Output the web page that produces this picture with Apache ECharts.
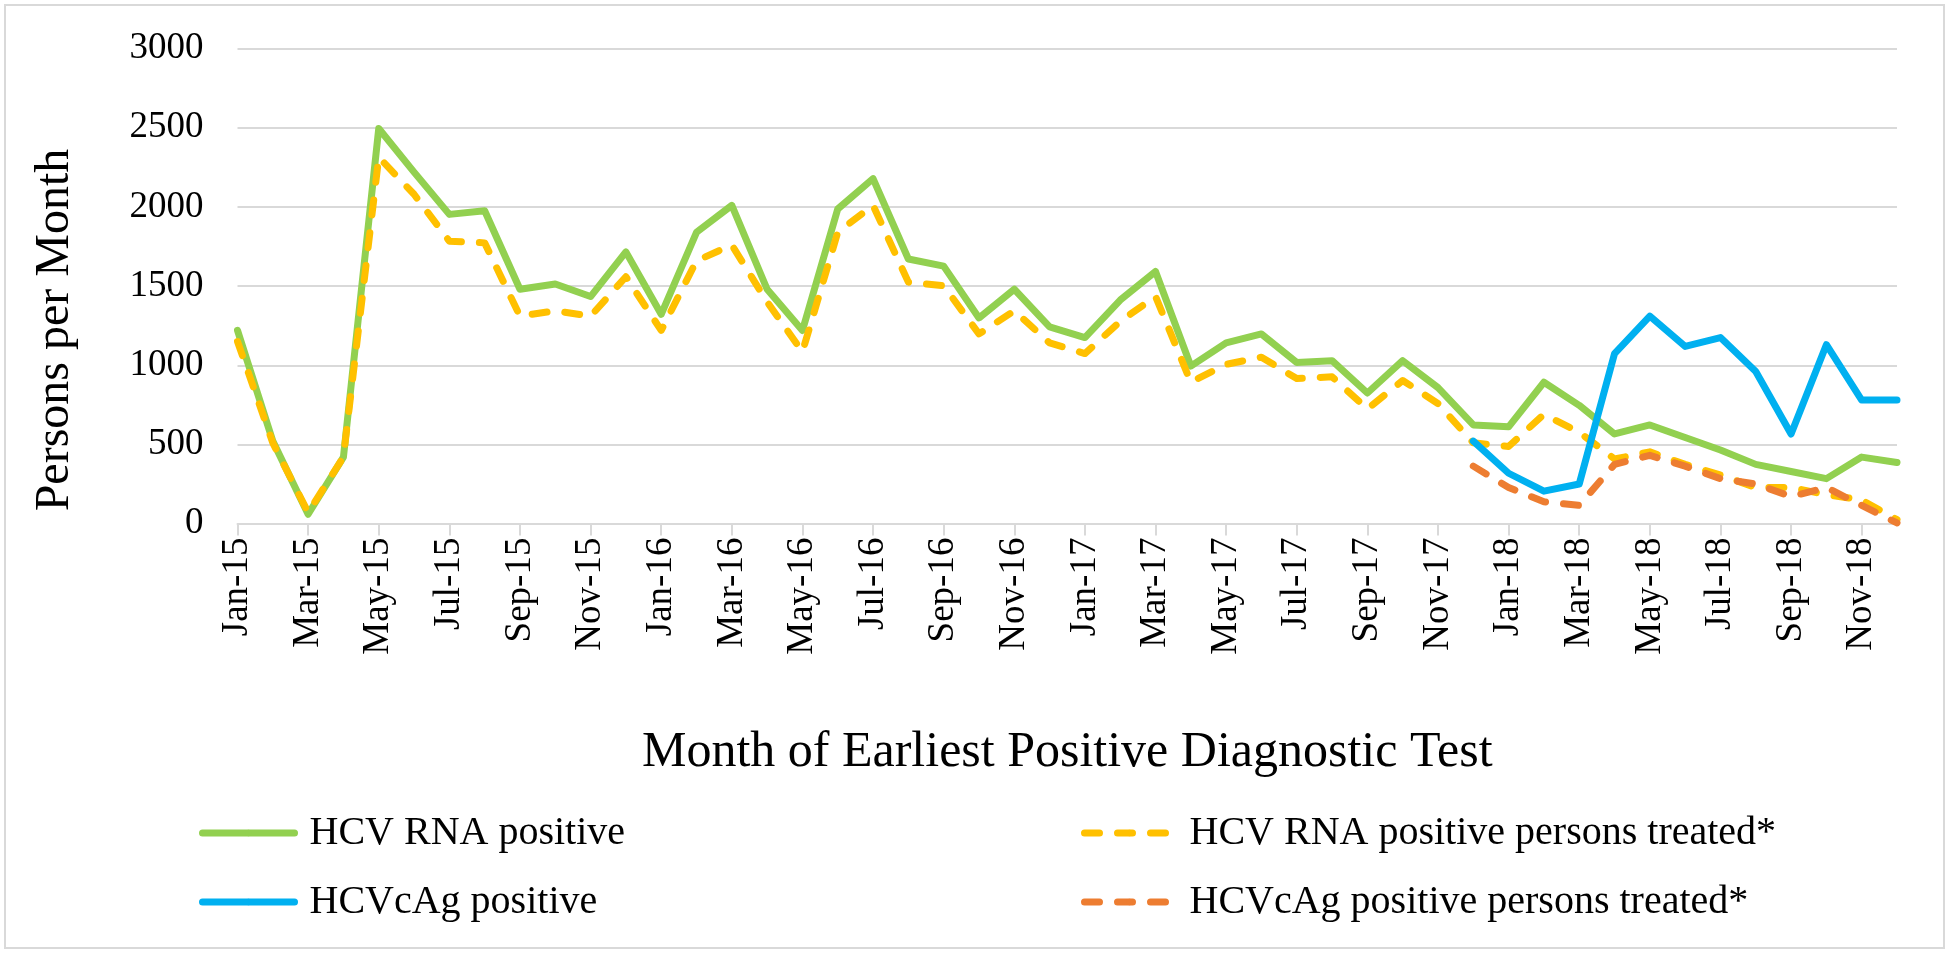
<!DOCTYPE html>
<html>
<head>
<meta charset="utf-8">
<script src="https://cdn.jsdelivr.net/npm/echarts@6/dist/echarts.min.js"></script>
<style>
html,body{margin:0;padding:0;background:#fff;}
#chart{width:1950px;height:953px;}
</style>
</head>
<body>
<div id="chart"></div>
<script>
const months = ["Jan-15","Feb-15","Mar-15","Apr-15","May-15","Jun-15","Jul-15","Aug-15","Sep-15","Oct-15","Nov-15","Dec-15",
"Jan-16","Feb-16","Mar-16","Apr-16","May-16","Jun-16","Jul-16","Aug-16","Sep-16","Oct-16","Nov-16","Dec-16",
"Jan-17","Feb-17","Mar-17","Apr-17","May-17","Jun-17","Jul-17","Aug-17","Sep-17","Oct-17","Nov-17","Dec-17",
"Jan-18","Feb-18","Mar-18","Apr-18","May-18","Jun-18","Jul-18","Aug-18","Sep-18","Oct-18","Nov-18","Dec-18"];

const hcvRnaPositive = [1220,521,59,420,2495,2220,1953,1976,1480,1513,1434,1716,
1322,1840,2010,1480,1220,1987,2179,1671,1626,1299,1480,1243,
1175,1412,1592,995,1141,1198,1017,1029,825,1029,859,623,
611,893,747,566,623,544,465,374,329,284,420,386];

const hcvRnaTreated = [1150,510,70,420,2314,2080,1784,1773,1310,1344,1310,1559,
1220,1660,1760,1400,1085,1840,2010,1525,1502,1198,1344,1141,
1074,1277,1435,893,1006,1051,916,927,724,904,758,510,
487,690,577,408,453,374,307,228,228,183,149,25];

const hcvcAgPositive = [null,null,null,null,null,null,null,null,null,null,null,null,
null,null,null,null,null,null,null,null,null,null,null,null,
null,null,null,null,null,null,null,null,null,null,null,521,
318,205,250,1074,1310,1119,1175,961,566,1130,780,780];

const hcvcAgTreated = [null,null,null,null,null,null,null,null,null,null,null,null,
null,null,null,null,null,null,null,null,null,null,null,null,
null,null,null,null,null,null,null,null,null,null,null,363,
228,138,115,374,431,363,284,250,171,228,115,4];

const yTicks = {min: 0, max: 3000, interval: 500};

const FONT = "'Liberation Serif','Times New Roman',serif";
const chart = echarts.init(document.getElementById('chart'), null, {renderer: 'canvas'});

function lineSeries(name, data, color, dashed) {
  return {
    name: name, type: 'line', data: data, symbol: 'none', connectNulls: false,
    lineStyle: {color: color, width: 7, type: dashed ? [15, 18] : 'solid', cap: 'round', join: 'round'},
    itemStyle: {color: color},
    emphasis: {disabled: true}
  };
}

function legendOf(left, itemWidth, padLeft, names) {
  return {
    orient: 'vertical', left: left, top: 808, itemWidth: itemWidth, itemHeight: 8, itemGap: 29,
    textStyle: {fontFamily: FONT, fontSize: 40, color: '#000', padding: [0, 0, 0, padLeft]},
    lineStyle: {width: 7},
    data: names
  };
}

chart.setOption({
  backgroundColor: '#fff',
  animation: false,
  grid: {left: 237.5, right: 53, top: 48.6, bottom: 429.4, containLabel: false},
  xAxis: {
    type: 'category', data: months, boundaryGap: false,
    axisLine: {lineStyle: {color: '#D9D9D9', width: 2}},
    axisTick: {show: true, interval: 1, length: 12, lineStyle: {color: '#D9D9D9', width: 2}},
    axisLabel: {interval: 1, rotate: 90, margin: 14, fontFamily: FONT, fontSize: 37, color: '#000'},
    name: 'Month of Earliest Positive Diagnostic Test', nameLocation: 'middle', nameGap: 204,
    nameTextStyle: {fontFamily: FONT, fontSize: 50, color: '#000'}
  },
  yAxis: {
    type: 'value', min: yTicks.min, max: yTicks.max, interval: yTicks.interval,
    axisLine: {show: false}, axisTick: {show: false},
    splitLine: {lineStyle: {color: '#D9D9D9', width: 2}},
    axisLabel: {margin: 34, fontFamily: FONT, fontSize: 37, color: '#000', formatter: function (v) { return String(v); }}
  },
  legend: [
    legendOf(194, 92, 10, ['HCV RNA positive', 'HCVcAg positive']),
    legendOf(1076, 90, 10, ['HCV RNA positive persons treated*', 'HCVcAg positive persons treated*'])
  ],
  graphic: [
    {type: 'rect', shape: {x: 5, y: 5, width: 1939, height: 943}, style: {fill: 'none', stroke: '#D9D9D9', lineWidth: 2}, silent: true},
    {type: 'text', x: 55, y: 330, rotation: Math.PI / 2,
     style: {text: 'Persons per Month', font: '48px ' + FONT, fill: '#000', textAlign: 'center', textVerticalAlign: 'middle'}}
  ],
  series: [
    lineSeries('HCV RNA positive', hcvRnaPositive, '#92D050', false),
    lineSeries('HCV RNA positive persons treated*', hcvRnaTreated, '#FFC000', true),
    lineSeries('HCVcAg positive', hcvcAgPositive, '#00B0F0', false),
    lineSeries('HCVcAg positive persons treated*', hcvcAgTreated, '#ED7D31', true)
  ]
});
</script>
</body>
</html>
